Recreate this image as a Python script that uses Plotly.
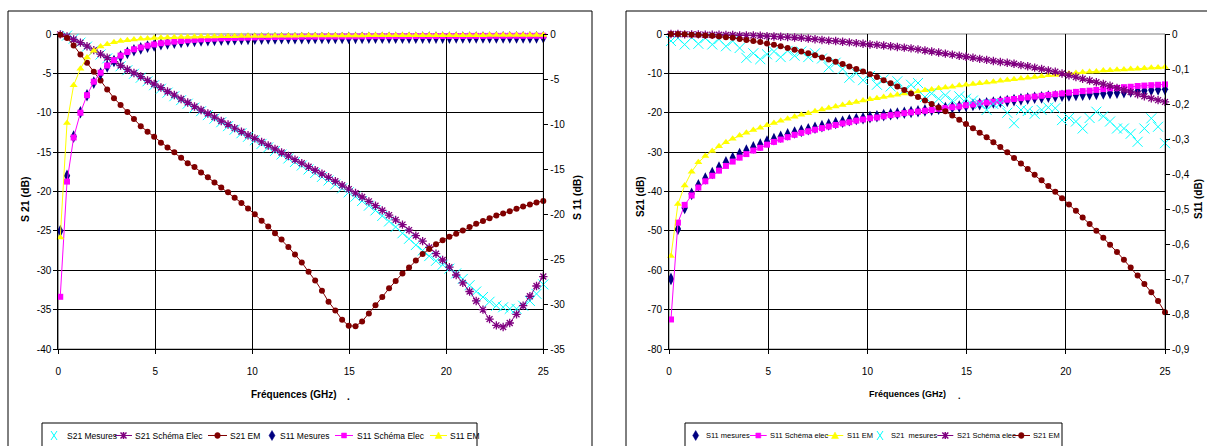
import plotly.graph_objects as go

W, H = 1207, 446

freq_ghz = [0.10, 0.45, 0.79, 1.14, 1.48, 1.83, 2.18, 2.52, 2.87, 3.21,
            3.56, 3.90, 4.25, 4.60, 4.94, 5.29, 5.63, 5.98, 6.33, 6.67,
            7.02, 7.36, 7.71, 8.05, 8.40, 8.75, 9.09, 9.44, 9.78, 10.13,
            10.48, 10.82, 11.17, 11.51, 11.86, 12.20, 12.55, 12.90, 13.24, 13.59,
            13.93, 14.28, 14.63, 14.97, 15.32, 15.66, 16.01, 16.35, 16.70, 17.05,
            17.39, 17.74, 18.08, 18.43, 18.78, 19.12, 19.47, 19.81, 20.16, 20.51,
            20.85, 21.20, 21.54, 21.89, 22.23, 22.58, 22.93, 23.27, 23.62, 23.96,
            24.31, 24.65, 25.00]

# ---------------- Left chart ----------------
left_s21_mesures = [0.1, -0.2, -0.6, -1.1, -1.6, -2.1, -2.6, -3.1, -3.6, -4.1,
                    -4.6, -5.05, -5.55, -6.0, -6.5, -6.95, -7.45, -7.9, -8.4, -8.85,
                    -9.35, -9.8, -10.3, -10.75, -11.2, -11.7, -12.15, -12.6, -13.05, -13.5,
                    -13.95, -14.4, -14.85, -15.3, -15.8, -16.25, -16.7, -17.2, -17.65, -18.15,
                    -18.6, -19.1, -19.6, -20.1, -20.65, -21.2, -21.8, -22.4, -23.1, -23.8,
                    -24.5, -25.3, -26.0, -26.8, -27.5, -28.2, -28.8, -29.3, -29.8, -30.4,
                    -31.1, -31.9, -32.7, -33.4, -34.0, -34.5, -34.7, -34.9, -34.9, -34.5,
                    -33.9, -33.0, -31.8]
left_s21_schema = [-0.05, -0.3, -0.7, -1.1, -1.55, -2.05, -2.55, -3.0, -3.5, -4.0,
                   -4.5, -4.95, -5.4, -5.9, -6.35, -6.8, -7.3, -7.75, -8.25, -8.7,
                   -9.2, -9.65, -10.1, -10.55, -11.05, -11.5, -11.95, -12.4, -12.85, -13.25,
                   -13.7, -14.15, -14.6, -15.05, -15.5, -15.95, -16.4, -16.85, -17.3, -17.75,
                   -18.2, -18.7, -19.2, -19.7, -20.2, -20.7, -21.25, -21.8, -22.4, -23.0,
                   -23.6, -24.2, -24.9, -25.6, -26.3, -27.1, -27.9, -28.7, -29.6, -30.6,
                   -31.6, -32.7, -33.9, -35.0, -36.2, -37.0, -37.2, -36.7, -35.6, -34.5,
                   -33.3, -32.0, -30.8]
left_s21_em = [-0.1, -0.5, -1.45, -2.6, -3.65, -4.8, -5.9, -7.05, -8.15, -9.0,
               -9.9, -10.8, -11.7, -12.4, -13.05, -13.8, -14.4, -15.0, -15.7, -16.4,
               -16.9, -17.6, -18.2, -18.85, -19.5, -20.1, -20.8, -21.45, -22.15, -22.9,
               -23.7, -24.45, -25.3, -26.1, -27.05, -28.0, -29.0, -30.2, -31.3, -32.6,
               -34.0, -35.1, -36.3, -37.05, -37.1, -36.5, -35.5, -34.45, -33.4, -32.3,
               -31.35, -30.4, -29.65, -28.75, -27.95, -27.3, -26.7, -26.2, -25.75, -25.35,
               -24.95, -24.5, -24.1, -23.75, -23.4, -23.05, -22.8, -22.5, -22.2, -21.9,
               -21.65, -21.4, -21.2]
left_s11_mesures = [-21.9, -15.75, -11.4, -8.7, -6.8, -5.4, -4.4, -3.6, -3.0, -2.5,
                    -2.1, -1.8, -1.6, -1.4, -1.27, -1.14, -1.05, -0.96, -0.88, -0.81,
                    -0.76, -0.72, -0.68, -0.65, -0.62, -0.6, -0.58, -0.56, -0.54, -0.52,
                    -0.51, -0.5, -0.49, -0.48, -0.47, -0.47, -0.46, -0.46, -0.45, -0.45,
                    -0.44, -0.44, -0.44, -0.43, -0.43, -0.43, -0.42, -0.42, -0.42, -0.42,
                    -0.41, -0.41, -0.41, -0.41, -0.4, -0.4, -0.4, -0.4, -0.4, -0.39,
                    -0.39, -0.39, -0.39, -0.39, -0.39, -0.38, -0.38, -0.38, -0.38, -0.38,
                    -0.38, -0.38, -0.38]
left_s11_schema = [-29.2, -16.4, -11.5, -8.75, -6.8, -5.3, -4.3, -3.5, -2.9, -2.4,
                   -2.0, -1.7, -1.5, -1.3, -1.16, -1.03, -0.94, -0.85, -0.77, -0.7,
                   -0.65, -0.6, -0.56, -0.52, -0.49, -0.46, -0.44, -0.42, -0.4, -0.38,
                   -0.36, -0.35, -0.34, -0.33, -0.32, -0.31, -0.3, -0.3, -0.29, -0.29,
                   -0.28, -0.28, -0.27, -0.27, -0.26, -0.26, -0.26, -0.25, -0.25, -0.25,
                   -0.24, -0.24, -0.24, -0.23, -0.23, -0.23, -0.23, -0.22, -0.22, -0.22,
                   -0.22, -0.21, -0.21, -0.21, -0.21, -0.21, -0.2, -0.2, -0.2, -0.2,
                   -0.2, -0.2, -0.2]
left_s11_em = [-22.6, -9.9, -5.7, -3.85, -2.6, -1.85, -1.4, -1.14, -0.92, -0.79,
               -0.7, -0.61, -0.54, -0.49, -0.45, -0.41, -0.38, -0.36, -0.34, -0.32,
               -0.3, -0.29, -0.28, -0.27, -0.26, -0.25, -0.24, -0.23, -0.22, -0.22,
               -0.21, -0.21, -0.2, -0.2, -0.19, -0.19, -0.18, -0.18, -0.18, -0.17,
               -0.17, -0.17, -0.16, -0.16, -0.16, -0.16, -0.15, -0.15, -0.15, -0.15,
               -0.15, -0.14, -0.14, -0.14, -0.14, -0.14, -0.14, -0.13, -0.13, -0.13,
               -0.13, -0.13, -0.13, -0.13, -0.12, -0.12, -0.12, -0.12, -0.12, -0.12,
               -0.12, -0.12, -0.12]

# ---------------- Right chart ----------------
right_s11_mesures = [-62.2, -49.5, -44.2, -40.6, -38.4, -36.7, -35.3, -33.9, -32.6, -31.5,
                     -30.5, -29.6, -28.8, -28.1, -27.3, -26.7, -26.1, -25.5, -25.0, -24.6,
                     -24.2, -23.8, -23.4, -23.0, -22.6, -22.3, -21.9, -21.6, -21.4, -21.1,
                     -20.9, -20.6, -20.4, -20.2, -20.0, -19.8, -19.6, -19.4, -19.2, -19.0,
                     -18.8, -18.6, -18.4, -18.2, -18.0, -17.8, -17.6, -17.4, -17.2, -17.0,
                     -16.8, -16.6, -16.4, -16.2, -16.1, -15.9, -15.8, -15.7, -15.6, -15.5,
                     -15.4, -15.3, -15.2, -15.1, -15.0, -14.9, -14.8, -14.6, -14.5, -14.4,
                     -14.2, -14.1, -14.0]
right_s11_schema = [-72.5, -47.9, -43.4, -41.0, -39.0, -37.4, -36.0, -34.7, -33.5, -32.4,
                    -31.4, -30.5, -29.6, -28.9, -28.1, -27.4, -26.8, -26.2, -25.6, -25.1,
                    -24.7, -24.3, -23.9, -23.5, -23.1, -22.7, -22.4, -22.0, -21.7, -21.4,
                    -21.2, -20.9, -20.6, -20.4, -20.1, -19.9, -19.7, -19.5, -19.3, -19.0,
                    -18.8, -18.6, -18.4, -18.1, -17.9, -17.6, -17.4, -17.2, -17.0, -16.7,
                    -16.5, -16.3, -16.1, -15.9, -15.7, -15.5, -15.3, -15.1, -14.9, -14.7,
                    -14.5, -14.4, -14.2, -14.0, -13.8, -13.7, -13.5, -13.4, -13.2, -13.1,
                    -13.0, -12.9, -12.8]
right_s11_em = [-56.4, -43.2, -38.5, -35.0, -32.6, -31.0, -29.7, -28.5, -27.5, -26.6,
                -25.8, -25.1, -24.4, -23.8, -23.2, -22.6, -22.0, -21.5, -21.0, -20.5,
                -20.1, -19.6, -19.2, -18.8, -18.4, -18.0, -17.6, -17.3, -16.9, -16.6,
                -16.3, -16.0, -15.7, -15.4, -15.1, -14.8, -14.6, -14.3, -14.1, -13.8,
                -13.6, -13.4, -13.1, -12.9, -12.7, -12.5, -12.3, -12.1, -11.9, -11.7,
                -11.5, -11.3, -11.1, -10.9, -10.7, -10.5, -10.4, -10.2, -10.0, -9.9,
                -9.7, -9.6, -9.5, -9.3, -9.2, -9.1, -9.0, -8.9, -8.8, -8.7,
                -8.6, -8.5, -8.4]
right_s21_mesures = [-0.02, -0.012, -0.03, -0.01, -0.028, -0.012, -0.03, -0.015, -0.035, -0.02,
                     -0.04, -0.068, -0.055, -0.072, -0.058, -0.05, -0.066, -0.048, -0.062, -0.05,
                     -0.066, -0.055, -0.07, -0.095, -0.082, -0.1, -0.125, -0.112, -0.132, -0.12,
                     -0.145, -0.13, -0.15, -0.135, -0.16, -0.145, -0.14, -0.18, -0.17, -0.185,
                     -0.175, -0.19, -0.178, -0.185, -0.19, -0.2, -0.217, -0.2, -0.198, -0.225,
                     -0.255, -0.217, -0.22, -0.228, -0.217, -0.21, -0.212, -0.246, -0.24, -0.25,
                     -0.27, -0.24, -0.222, -0.235, -0.25, -0.27, -0.27, -0.285, -0.308, -0.27,
                     -0.241, -0.265, -0.312]
right_s21_schema = [0.0, 0.0, -0.001, -0.001, -0.001, -0.002, -0.002, -0.002, -0.003, -0.003,
                    -0.004, -0.004, -0.004, -0.005, -0.006, -0.007, -0.008, -0.009, -0.01, -0.011,
                    -0.013, -0.015, -0.017, -0.019, -0.02, -0.022, -0.024, -0.026, -0.028, -0.03,
                    -0.031, -0.033, -0.035, -0.037, -0.039, -0.041, -0.044, -0.047, -0.05, -0.053,
                    -0.056, -0.059, -0.062, -0.065, -0.068, -0.071, -0.074, -0.077, -0.08, -0.082,
                    -0.085, -0.089, -0.092, -0.096, -0.1, -0.104, -0.108, -0.113, -0.118, -0.123,
                    -0.128, -0.133, -0.138, -0.143, -0.148, -0.154, -0.16, -0.166, -0.172, -0.178,
                    -0.184, -0.189, -0.194]
right_s21_em = [0.0, 0.0, -0.001, -0.002, -0.003, -0.004, -0.005, -0.007, -0.009, -0.011,
                -0.014, -0.017, -0.02, -0.023, -0.027, -0.031, -0.035, -0.04, -0.045, -0.05,
                -0.055, -0.061, -0.067, -0.073, -0.079, -0.086, -0.093, -0.1, -0.107, -0.115,
                -0.123, -0.132, -0.141, -0.15, -0.16, -0.17, -0.18, -0.19, -0.2, -0.21,
                -0.221, -0.233, -0.245, -0.257, -0.269, -0.282, -0.295, -0.309, -0.323, -0.338,
                -0.354, -0.37, -0.386, -0.402, -0.418, -0.434, -0.451, -0.469, -0.487, -0.505,
                -0.524, -0.543, -0.562, -0.582, -0.602, -0.623, -0.645, -0.667, -0.69, -0.714,
                -0.738, -0.763, -0.795]

# tick labels
x_ticks = [0, 5, 10, 15, 20, 25]
x_ticklabels = ["0", "5", "10", "15", "20", "25"]
left_y_ticks = [0, -5, -10, -15, -20, -25, -30, -35, -40]
left_y_ticklabels = ["0", "-5", "-10", "-15", "-20", "-25", "-30", "-35", "-40"]
left_y2_ticks = [0, -5, -10, -15, -20, -25, -30, -35]
left_y2_ticklabels = ["0", "-5", "-10", "-15", "-20", "-25", "-30", "-35"]
right_y_ticks = [0, -10, -20, -30, -40, -50, -60, -70, -80]
right_y_ticklabels = ["0", "-10", "-20", "-30", "-40", "-50", "-60", "-70", "-80"]
right_y2_ticks = [0, -0.1, -0.2, -0.3, -0.4, -0.5, -0.6, -0.7, -0.8, -0.9]
right_y2_ticklabels = ["0", "-0,1", "-0,2", "-0,3", "-0,4", "-0,5", "-0,6", "-0,7", "-0,8", "-0,9"]

left_legend_labels = ["S21 Mesures", "S21 Schéma Elec", "S21 EM",
                      "S11 Mesures", "S11 Schéma Elec", "S11 EM"]
right_legend_labels = ["S11 mesures", "S11 Schéma elec", "S11 EM",
                       "S21  mesures", "S21 Schéma elec", "S21 EM"]

FONT = "Liberation Sans, Arial, sans-serif"

COLORS = {"s21_mes": "#00FFFF", "s21_sch": "#800080", "s21_em": "#800000",
          "s11_mes": "#000080", "s11_sch": "#FF00FF", "s11_em": "#FFFF00"}

fig = go.Figure()


def add(name, y, xa, ya, kind):
    c = COLORS[kind]
    common = dict(x=freq_ghz, y=y, name=name, xaxis=xa, yaxis=ya, showlegend=False,
                  cliponaxis=False)
    if kind == "s21_mes":
        tr = go.Scatter(mode="markers", marker=dict(symbol="x-thin-open", size=10,
                        line=dict(color=c, width=1), color=c), **common)
    elif kind == "s21_sch":
        tr = go.Scatter(mode="lines+markers", line=dict(color=c, width=1),
                        marker=dict(symbol="asterisk-open", size=7,
                                    line=dict(color=c, width=1.3), color=c), **common)
    elif kind == "s21_em":
        tr = go.Scatter(mode="lines+markers", line=dict(color=c, width=1),
                        marker=dict(symbol="circle", size=6, color=c), **common)
    elif kind == "s11_mes":
        tr = go.Scatter(mode="markers", marker=dict(symbol="diamond-tall", size=9, color=c),
                        **common)
    elif kind == "s11_sch":
        tr = go.Scatter(mode="lines+markers", line=dict(color=c, width=1),
                        marker=dict(symbol="square", size=6, color=c), **common)
    else:
        tr = go.Scatter(mode="lines+markers", line=dict(color=c, width=1),
                        marker=dict(symbol="triangle-up", size=7, color=c), **common)
    fig.add_trace(tr)


left_kinds = ["s21_mes", "s21_sch", "s21_em", "s11_mes", "s11_sch", "s11_em"]
right_kinds = ["s11_mes", "s11_sch", "s11_em", "s21_mes", "s21_sch", "s21_em"]

# left chart: S21 on left axis, S11 on right axis
for lab, ser, kind, ya in zip(left_legend_labels,
                              [left_s21_mesures, left_s21_schema, left_s21_em,
                               left_s11_mesures, left_s11_schema, left_s11_em],
                              left_kinds, ["y", "y", "y", "y2", "y2", "y2"]):
    add(lab, ser, "x", ya, kind)
# right chart
for lab, ser, kind, ya in zip(right_legend_labels,
                              [right_s11_mesures, right_s11_schema, right_s11_em,
                               right_s21_mesures, right_s21_schema, right_s21_em],
                              right_kinds, ["y3", "y3", "y3", "y4", "y4", "y4"]):
    add(lab, ser, "x2", ya, kind)


def px(x):
    return x / W


def py(y):
    return 1 - y / H


L_DOM = [px(58.3), px(543.3)]
R_DOM = [px(669), px(1165)]
Y_DOM = [py(349), py(34)]

tickfont = dict(family=FONT, size=10, color="black")
axis_common = dict(showline=True, linecolor="black", linewidth=1, ticks="outside",
                   ticklen=4, tickcolor="black", tickfont=tickfont, zeroline=False,
                   showgrid=False, automargin=False)
xcommon = dict(axis_common, range=[0, 25], tickvals=x_ticks, ticktext=x_ticklabels,
               showgrid=True, gridcolor="black", gridwidth=1, ticklabelstandoff=9)

fig.update_layout(
    width=W, height=H, margin=dict(l=0, r=0, t=0, b=0, autoexpand=False),
    paper_bgcolor="white", plot_bgcolor="white",
    font=dict(family=FONT, size=10, color="black"),
    showlegend=False,
    xaxis=dict(xcommon, domain=L_DOM, anchor="y"),
    yaxis=dict(axis_common, domain=Y_DOM, anchor="x", range=[-40, 0],
               tickvals=left_y_ticks, ticktext=left_y_ticklabels,
               showgrid=True, gridcolor="black", gridwidth=1),
    yaxis2=dict(axis_common, overlaying="y", side="right", anchor="x", range=[-35, 0],
                tickvals=left_y2_ticks, ticktext=left_y2_ticklabels),
    xaxis2=dict(xcommon, domain=R_DOM, anchor="y3"),
    yaxis3=dict(axis_common, domain=Y_DOM, anchor="x2", range=[-80, 0],
                tickvals=right_y_ticks, ticktext=right_y_ticklabels,
                showgrid=True, gridcolor="black", gridwidth=1),
    yaxis4=dict(axis_common, overlaying="y3", side="right", anchor="x2", range=[-0.9, 0],
                tickvals=right_y2_ticks, ticktext=right_y2_ticklabels),
)


def P(x, y):
    return f"{px(x):.6f},{py(y):.6f}"


shapes = []
# outer chart frames
shapes.append(dict(type="rect", x0=px(8), x1=px(592), y0=py(470), y1=py(11),
                   line=dict(color="black", width=1), layer="below"))
shapes.append(dict(type="rect", x0=px(626), x1=px(1225), y0=py(470), y1=py(11),
                   line=dict(color="black", width=1), layer="below"))
# plot area borders (gray)
for dom in (L_DOM, R_DOM):
    shapes.append(dict(type="rect", x0=dom[0], x1=dom[1], y0=Y_DOM[0], y1=Y_DOM[1],
                       line=dict(color="#808080", width=1), layer="below"))

annotations = []


# ---- hand-built legends (compact, like the original) ----
def legend_glyph(kind, line_span, cx, cy):
    c = COLORS[kind]
    if line_span is not None:
        shapes.append(dict(type="path", path=f"M{P(line_span[0], cy)} L{P(line_span[1], cy)}",
                           line=dict(color=c, width=1)))
    if kind == "s21_mes":
        shapes.append(dict(type="path",
                           path=f"M{P(cx-3, cy-4.5)} L{P(cx+3, cy+4.5)} M{P(cx-3, cy+4.5)} L{P(cx+3, cy-4.5)}",
                           line=dict(color=c, width=1)))
    elif kind == "s21_sch":
        shapes.append(dict(type="path",
                           path=(f"M{P(cx-3, cy-3)} L{P(cx+3, cy+3)} M{P(cx-3, cy+3)} L{P(cx+3, cy-3)} "
                                 f"M{P(cx, cy-3.5)} L{P(cx, cy+3.5)}"),
                           line=dict(color=c, width=1.5)))
    elif kind == "s21_em":
        shapes.append(dict(type="circle", x0=px(cx-2.8), x1=px(cx+2.8), y0=py(cy+3), y1=py(cy-3),
                           fillcolor=c, line=dict(color=c, width=0.5)))
    elif kind == "s11_mes":
        shapes.append(dict(type="path",
                           path=f"M{P(cx, cy-5)} L{P(cx+3, cy)} L{P(cx, cy+5)} L{P(cx-3, cy)} Z",
                           fillcolor=c, line=dict(color=c, width=0.5)))
    elif kind == "s11_sch":
        shapes.append(dict(type="rect", x0=px(cx-2.5), x1=px(cx+2.5), y0=py(cy+2.5), y1=py(cy-2.5),
                           fillcolor=c, line=dict(color=c, width=0.5)))
    else:
        shapes.append(dict(type="path",
                           path=f"M{P(cx, cy-3.5)} L{P(cx+3.5, cy+3)} L{P(cx-3.5, cy+3)} Z",
                           fillcolor=c, line=dict(color=c, width=0.5)))


def build_legend(box, cy, entries, labels, kinds, fsize):
    shapes.append(dict(type="rect", x0=px(box[0]), x1=px(box[1]), y0=py(box[2]), y1=py(box[3]),
                       fillcolor="white", line=dict(color="black", width=1)))
    for (span, cx, tx), lab, kind in zip(entries, labels, kinds):
        legend_glyph(kind, span, cx, cy)
        annotations.append(dict(text=lab, x=px(tx), y=py(cy), xanchor="left", yanchor="middle",
                                font=dict(family=FONT, size=fsize, color="black")))


left_entries = [(None, 54, 64.5), ((115, 132), 123.5, 133), ((208, 227), 217.5, 228),
                (None, 272, 278), ((335, 353), 344, 355), ((430, 447), 438.5, 448)]
right_entries = [(None, 695.7, 703.5), ((750, 766.7), 758.3, 767.5), ((826.7, 843.3), 835, 845),
                 (None, 880, 888.5), ((937.3, 953.3), 945.3, 955), ((1012.7, 1030), 1021.3, 1031)]

build_legend((42, 477, 460, 423), 435.5, left_entries, left_legend_labels, left_kinds, 8.5)
build_legend((685, 1062, 460, 423), 435.5, right_entries, right_legend_labels, right_kinds, 7.5)

for s in shapes:
    s.update(xref="paper", yref="paper")

title_annots = [
    ("<b>S 21 (dB)</b>", 25, 199, -90, 10.5),
    ("<b>S 11 (dB)</b>", 577, 198, -90, 10.5),
    ("<b>Fréquences (GHz)</b>", 293.5, 394, 0, 10),
    ("<b>.</b>", 348, 396, 0, 10),
    ("<b>S21 (dB)</b>", 640, 197, -90, 10),
    ("<b>S11 (dB)</b>", 1198, 199, -90, 10),
    ("<b>Fréquences (GHz)</b>", 908, 394, 0, 9),
    ("<b>.</b>", 959, 396, 0, 9),
]
for text, x, y, ang, fs in title_annots:
    annotations.append(dict(text=text, x=px(x), y=py(y), textangle=ang,
                            xanchor="center", yanchor="middle",
                            font=dict(family=FONT, size=fs, color="black")))
for a in annotations:
    a.update(xref="paper", yref="paper", showarrow=False)

fig.update_layout(shapes=shapes, annotations=annotations)

# remove the browser's default 8px page margin so the figure sits at (0, 0)
fig.write_html("out.html", config={"displayModeBar": False},
               post_script="document.body.style.margin='0';document.body.style.overflow='hidden';")
